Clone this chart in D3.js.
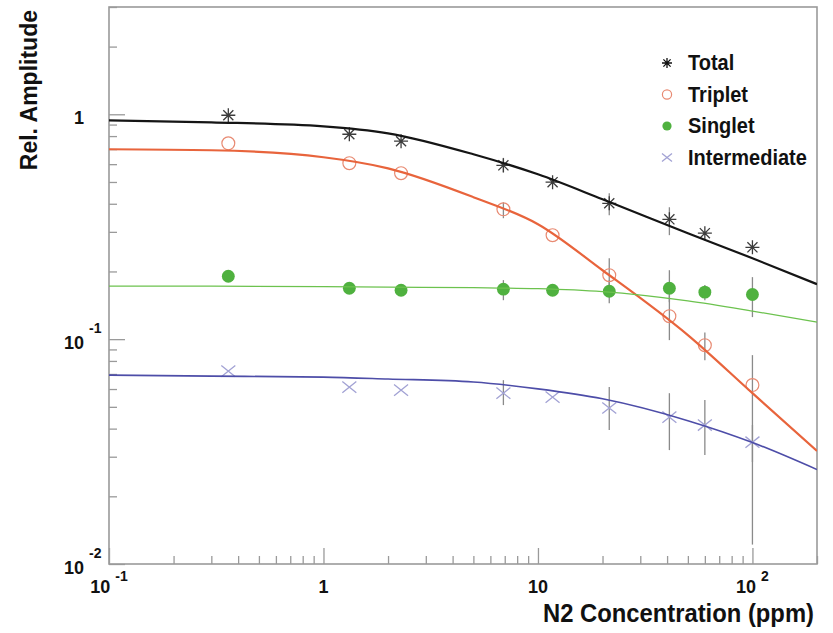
<!DOCTYPE html>
<html>
<head>
<meta charset="utf-8">
<script src="https://cdn.jsdelivr.net/npm/d3@7"></script>
<style>
  body { margin: 0; background: #fff; }
  svg { display: block; font-family: "Liberation Sans", Arial, Helvetica, sans-serif; font-weight: bold; }
</style>
</head>
<body>
<svg id="chart"></svg>
<script>
// measured points (N2 concentration in ppm)
const concentration = [0.36, 1.32, 2.3, 6.9, 11.7, 21.5, 41, 60, 100];

const total        = [0.99, 0.815, 0.759, 0.593, 0.499, 0.402, 0.341, 0.296, 0.256];
const triplet      = [0.743, 0.606, 0.547, 0.378, 0.290, 0.1925, 0.1265, 0.094, 0.0625];
const singlet      = [0.1905, 0.1685, 0.165, 0.1668, 0.165, 0.1634, 0.1685, 0.1618, 0.158];
const intermediate = [0.0721, 0.0612, 0.0593, 0.0575, 0.0552, 0.0494, 0.045, 0.0415, 0.0348];

// error bars [low, high], null where no bar is visible
const totalErr = [null, null, null, [0.55, 0.64], null, [0.356, 0.446], [0.29, 0.386], null, null];
const tripletErr = [null, null, null, [0.345, 0.406], null, [0.170, 0.229], [0.099, 0.157], [0.0806, 0.107], [0.0122, 0.0849]];
const singletErr = [null, null, null, [0.149, 0.183], null, [0.1445, 0.183], [0.146, 0.2026], [0.149, 0.174], [0.1253, 0.1887]];
const intermediateErr = [null, null, null, [0.0509, 0.0657], null, [0.0394, 0.0612], [0.0321, 0.0575], [0.0305, 0.0536], [0.0284, 0.0415]];

const fitX            = [0.1, 0.3, 1, 2, 5, 10, 20, 50, 100, 200];
const fitTotal        = [0.940, 0.921, 0.884, 0.823, 0.664, 0.541, 0.419, 0.296, 0.229, 0.1756];
const fitTriplet      = [0.699, 0.692, 0.644, 0.575, 0.428, 0.3245, 0.2025, 0.1042, 0.0575, 0.0318];
const fitSinglet      = [0.172, 0.172, 0.1712, 0.1703, 0.1694, 0.1677, 0.1626, 0.1479, 0.1333, 0.119];
const fitIntermediate = [0.0692, 0.0685, 0.0678, 0.0665, 0.0645, 0.0601, 0.0543, 0.0434, 0.0347, 0.0263];

const legendNames = ["Total", "Triplet", "Singlet", "Intermediate"];

const xTickValues = [0.1, 1, 10, 100];
const xTickLabels = [["10", "-1"], ["1", ""], ["10", ""], ["10", "2"]];
const yTickValues = [0.01, 0.1, 1];
const yTickLabels = [["10", "-2"], ["10", "-1"], ["1", ""]];

const width = 833;
const height = 633;
const plotLeft = 109, plotRight = 817, plotTop = 7, plotBottom = 564;

const svg = d3.select("#chart")
    .attr("width", width)
    .attr("height", height);

const x = d3.scaleLog().domain([0.1, 200]).range([plotLeft, plotRight]);
const y = d3.scaleLog().domain([0.01, 3]).range([plotBottom, plotTop]);

const axisColor = "#9a9a9a";

// minor and major ticks (pointing inwards)
const xMinor = x.ticks().filter(v => !xTickValues.includes(v));
const yMinor = y.ticks().filter(v => !yTickValues.includes(v));

function styleAxis(g) {
    g.select(".domain").remove();
    g.selectAll("line").attr("stroke", axisColor).attr("stroke-width", 1.3);
    g.selectAll("text").remove();
}

svg.append("g")
    .attr("transform", `translate(0,${plotBottom})`)
    .call(d3.axisBottom(x).tickValues(xMinor).tickSize(-8).tickFormat(""))
    .call(styleAxis);
svg.append("g")
    .attr("transform", `translate(0,${plotBottom})`)
    .call(d3.axisBottom(x).tickValues(xTickValues).tickSize(-16).tickFormat(""))
    .call(styleAxis);
svg.append("g")
    .attr("transform", `translate(${plotLeft},0)`)
    .call(d3.axisLeft(y).tickValues(yMinor).tickSize(-8).tickFormat(""))
    .call(styleAxis);
svg.append("g")
    .attr("transform", `translate(${plotLeft},0)`)
    .call(d3.axisLeft(y).tickValues(yTickValues).tickSize(-16).tickFormat(""))
    .call(styleAxis);

// frame
svg.append("rect")
    .attr("x", plotLeft).attr("y", plotTop)
    .attr("width", plotRight - plotLeft).attr("height", plotBottom - plotTop)
    .attr("fill", "none")
    .attr("stroke", axisColor)
    .attr("stroke-width", 1.6);

// tick labels
xTickValues.forEach((v, i) => {
    const t = svg.append("text")
        .attr("x", x(v))
        .attr("y", 593)
        .attr("text-anchor", "middle")
        .attr("font-size", 18)
        .attr("fill", "#111");
    t.append("tspan").text(xTickLabels[i][0]);
    if (xTickLabels[i][1]) {
        t.append("tspan")
            .attr("dx", 5).attr("dy", -12)
            .attr("font-size", 14)
            .text(xTickLabels[i][1]);
    }
});

yTickValues.forEach((v, i) => {
    const base = y(v) + 9.5;
    svg.append("text")
        .attr("x", plotLeft - 25)
        .attr("y", base)
        .attr("text-anchor", "end")
        .attr("font-size", 18)
        .attr("fill", "#111")
        .text(yTickLabels[i][0]);
    if (yTickLabels[i][1]) {
        svg.append("text")
            .attr("x", plotLeft - 20)
            .attr("y", base - 16)
            .attr("font-size", 14)
            .attr("fill", "#111")
            .text(yTickLabels[i][1]);
    }
});

// axis titles
svg.append("text")
    .attr("transform", `translate(814,622) scale(1,1.08)`)
    .attr("text-anchor", "end")
    .attr("font-size", 23.8)
    .attr("fill", "#111")
    .text("N2 Concentration (ppm)");

svg.append("text")
    .attr("transform", "translate(37,10) rotate(-90)")
    .attr("text-anchor", "end")
    .attr("font-size", 23)
    .attr("fill", "#111")
    .text("Rel. Amplitude");

// clip for the curves
svg.append("clipPath").attr("id", "plot-clip")
    .append("rect")
    .attr("x", plotLeft).attr("y", plotTop)
    .attr("width", plotRight - plotLeft).attr("height", plotBottom - plotTop);

const plot = svg.append("g").attr("clip-path", "url(#plot-clip)");

const series = [
    { name: "Total", values: total, err: totalErr, fit: fitTotal, line: "#151515", lw: 2.2, marker: "star", color: "#3c3c3c" },
    { name: "Triplet", values: triplet, err: tripletErr, fit: fitTriplet, line: "#e8643c", lw: 2.2, marker: "circle", color: "#e88a72" },
    { name: "Singlet", values: singlet, err: singletErr, fit: fitSinglet, line: "#6cc24e", lw: 1.3, marker: "dot", color: "#4fb13f" },
    { name: "Intermediate", values: intermediate, err: intermediateErr, fit: fitIntermediate, line: "#4d4da8", lw: 1.6, marker: "cross", color: "#a2a2d4" }
];

// error bars
series.forEach(s => {
    plot.append("g")
        .selectAll("line")
        .data(s.err.map((e, i) => ({ e, c: concentration[i] })).filter(d => d.e))
        .enter()
        .append("line")
        .attr("x1", d => x(d.c)).attr("x2", d => x(d.c))
        .attr("y1", d => y(d.e[0])).attr("y2", d => y(d.e[1]))
        .attr("stroke", "#8a8a8a")
        .attr("stroke-width", 1.3);
});

// markers
function drawMarker(g, type, color, size) {
    if (type === "star") {
        const d = size * 0.72;
        g.append("path")
            .attr("d", `M${-size},0H${size}M0,${-size}V${size}M${-d},${-d}L${d},${d}M${-d},${d}L${d},${-d}`)
            .attr("stroke", color).attr("stroke-width", 1.3).attr("fill", "none");
    } else if (type === "circle") {
        g.append("circle").attr("r", size * 0.92)
            .attr("fill", "none").attr("stroke", color).attr("stroke-width", 1.2);
    } else if (type === "dot") {
        g.append("circle").attr("r", size * 0.92).attr("fill", color);
    } else {
        g.append("path")
            .attr("d", `M${-size},${-size * 0.8}L${size},${size * 0.8}M${-size},${size * 0.8}L${size},${-size * 0.8}`)
            .attr("stroke", color).attr("stroke-width", 1.3).attr("fill", "none");
    }
}

series.forEach(s => {
    s.values.forEach((v, i) => {
        const g = plot.append("g")
            .attr("transform", `translate(${x(concentration[i])},${y(v)})`);
        drawMarker(g, s.marker, s.color, 7);
    });
});

// fit curves
const line = d3.line()
    .x(d => x(d[0]))
    .y(d => y(d[1]))
    .curve(d3.curveMonotoneX);

series.forEach(s => {
    plot.append("path")
        .datum(fitX.map((c, i) => [c, s.fit[i]]))
        .attr("d", line)
        .attr("fill", "none")
        .attr("stroke", s.line)
        .attr("stroke-width", s.lw);
});

// legend
const legend = svg.append("g");
legendNames.forEach((name, i) => {
    const s = series[i];
    const cy = 63 + i * 31.5;
    const g = legend.append("g").attr("transform", `translate(667,${cy})`);
    drawMarker(g, s.marker, s.marker === "star" ? "#111" : s.color, 5);
    legend.append("text")
        .attr("transform", `translate(688,${cy + 7}) scale(1,1.1)`)
        .attr("font-size", 20)
        .attr("fill", "#111")
        .text(name);
});
</script>
</body>
</html>
